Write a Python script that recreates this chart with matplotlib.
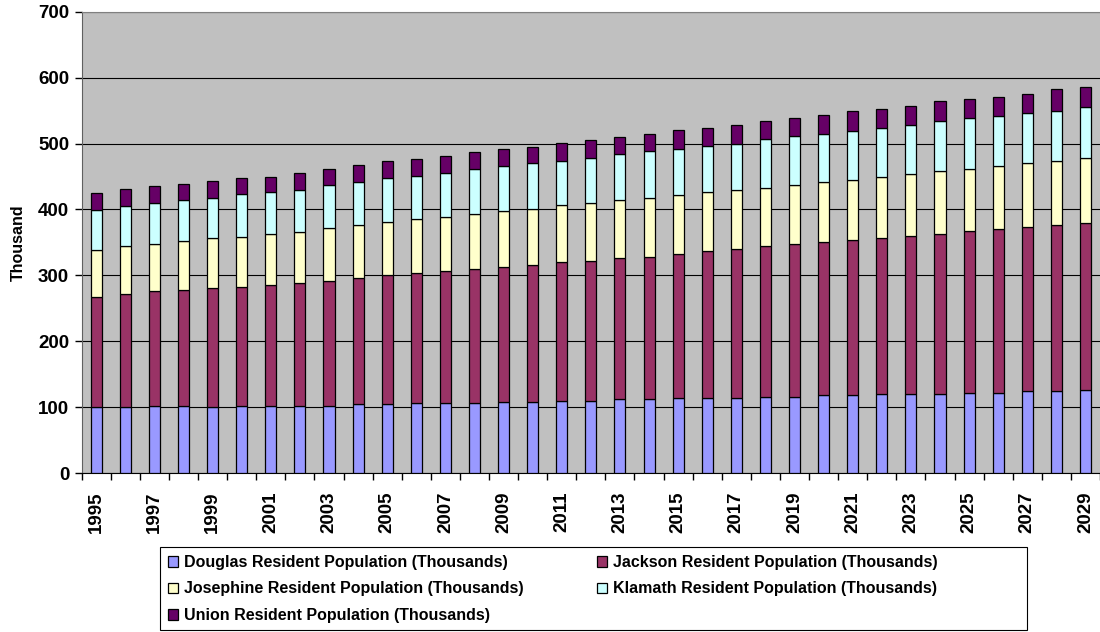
import numpy as np
import matplotlib
matplotlib.use('Agg')
import matplotlib.pyplot as plt
from matplotlib.patches import Patch, Rectangle

plt.rcParams['font.family'] = ['Liberation Sans', 'DejaVu Sans']
plt.rcParams['font.weight'] = 'bold'

# resident population by county, thousands, stacked
years = list(range(1995, 2030))
douglas = [100, 100, 102, 102, 100, 102, 102, 102, 102, 104,
           104, 106, 106, 106, 108, 108, 110, 110, 112, 112,
           114, 114, 114, 116, 116, 118, 118, 120, 120, 120,
           122, 122, 124, 124, 126]
jackson = [167, 171, 174, 176, 180, 180, 184, 186, 190, 192,
           196, 198, 200, 204, 204, 208, 210, 212, 214, 216,
           218, 223, 226, 228, 232, 232, 236, 236, 240, 242,
           245, 248, 249, 253, 253]
josephine = [71, 73, 72, 74, 76, 76, 76, 78, 80, 80,
             81, 81, 83, 83, 85, 85, 86, 88, 88, 90,
             90, 89, 90, 89, 89, 91, 91, 93, 94, 96,
             95, 96, 97, 97, 99]
klamath = [61, 61, 62, 63, 62, 65, 64, 64, 65, 65,
           66, 66, 66, 68, 69, 69, 68, 68, 70, 70,
           70, 70, 70, 74, 74, 74, 74, 75, 74, 76,
           76, 76, 76, 76, 77]
union = [26, 26, 25, 24, 25, 24, 23, 25, 25, 26,
         26, 25, 26, 26, 25, 25, 27, 27, 26, 27,
         28, 28, 28, 27, 28, 28, 30, 29, 29, 30,
         29, 29, 29, 32, 31]

series = [
  ('Douglas Resident Population (Thousands)', douglas, '#9999FF'),
  ('Jackson Resident Population (Thousands)', jackson, '#993366'),
  ('Josephine Resident Population (Thousands)', josephine, '#FFFFCC'),
  ('Klamath Resident Population (Thousands)', klamath, '#CCFFFF'),
  ('Union Resident Population (Thousands)', union, '#660066'),
]

W, H = 1100, 632
fig = plt.figure(figsize=(W / 100, H / 100), dpi=100)
ax = fig.add_axes([81.7 / W, 1 - 473 / H, 1 - 81.7 / W, (473 - 11.7) / H])
ax.set_facecolor('#C0C0C0')

x = np.arange(len(years))
bottom = np.zeros(len(years))
handles = {}
for label, vals, color in series:
  ax.bar(x, vals, 0.38, bottom=bottom, color=color, edgecolor='black', linewidth=0.9, zorder=3)
  handles[label] = Patch(facecolor=color, edgecolor='black', linewidth=0.9)
  bottom += np.array(vals)

ax.set_xlim(-0.5, len(years) - 0.5)
ax.set_ylim(0, 700)
ax.set_yticks(range(0, 701, 100))
ax.yaxis.grid(True, color='black', linewidth=0.8, zorder=1)
ax.set_axisbelow(True)

ax.set_xticks(x[::2])
ax.set_xticklabels([str(y) for y in years[::2]], rotation=90, fontsize=13.5, fontweight='bold')
ax.set_xticks(np.arange(-0.5, len(years)), minor=True)
ax.tick_params(axis='x', which='major', length=0, pad=13)
ax.tick_params(axis='x', which='minor', length=5, width=1, direction='out')
ax.tick_params(axis='y', length=5, width=1, direction='out', labelsize=13.5, pad=4)
for t in ax.get_yticklabels():
  t.set_fontweight('bold')

ax.spines['top'].set_color('#808080')
ax.spines['right'].set_visible(False)
ax.spines['left'].set_color('#606060')
ax.spines['bottom'].set_color('black')

ax.set_ylabel('Thousand', fontsize=11.5, fontweight='bold', labelpad=9)

# legend box, drawn separately so it can be wider than the entries
fig.patches.append(Rectangle((160 / W, 1 - 630 / H), (1027 - 160) / W, (630 - 547) / H,
                             transform=fig.transFigure, facecolor='white',
                             edgecolor='black', linewidth=0.8, zorder=0))

order = [0, 2, 4, 1, 3]
labels = [series[i][0] for i in order]
leg = fig.legend([handles[l] for l in labels], labels, loc='upper left',
                 bbox_to_anchor=(160 / W, 1 - 547 / H), borderaxespad=0, ncol=2,
                 frameon=False, handlelength=0.65, handleheight=0.65, handletextpad=0.35,
                 columnspacing=4.6, labelspacing=0.72, borderpad=0.5,
                 prop={'weight': 'bold', 'size': 11.5})

fig.savefig('out.png', dpi=100)
